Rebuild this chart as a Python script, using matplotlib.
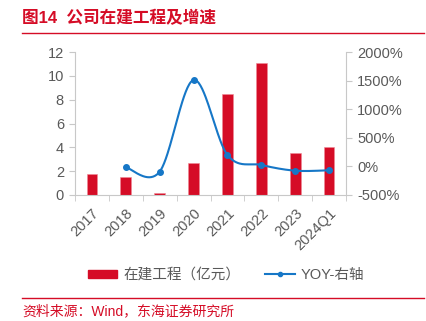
import numpy as np
import matplotlib
matplotlib.use("Agg")
import matplotlib.pyplot as plt
from matplotlib.lines import Line2D
from matplotlib.patches import Patch
from matplotlib.ticker import FuncFormatter, MultipleLocator

plt.rcParams['font.family'] = ['Liberation Sans', 'Noto Sans CJK SC', 'DejaVu Sans']

years = ['2017', '2018', '2019', '2020', '2021', '2022', '2023', '2024Q1']
cip = [1.75, 1.55, 0.15, 2.72, 8.5, 11.1, 3.52, 4.0]          # 在建工程（亿元）
yoy = [None, -15, -92, 1510, 200, 25, -75, -68]              # YOY %

RED = '#D50C26'
BLUE = '#1677C7'
GRAY = '#595959'
AXC = '#C8C8C8'


def catmull(xs, ys, n=40):
    # smooth drawing path through the points (rendering only)
    px, py = [], []
    P = list(zip(xs, ys))
    for i in range(len(P) - 1):
        p0 = P[i - 1] if i > 0 else P[i]
        p1, p2 = P[i], P[i + 1]
        p3 = P[i + 2] if i + 2 < len(P) else P[i + 1]
        t = np.linspace(0, 1, n)
        for k in range(2):
            a, b, c, d = p0[k], p1[k], p2[k], p3[k]
            v = 0.5 * ((2 * b) + (-a + c) * t + (2 * a - 5 * b + 4 * c - d) * t ** 2
                       + (-a + 3 * b - 3 * c + d) * t ** 3)
            (px if k == 0 else py).append(v)
    return np.concatenate(px), np.concatenate(py)


fig = plt.figure(figsize=(4.26, 3.21), dpi=100)
ax = fig.add_axes([75 / 426, 1 - 195 / 321, 271 / 426, 143 / 321])
ax2 = ax.twinx()

x = np.arange(len(years))
ax.bar(x, cip, width=0.32, color=RED, edgecolor='#F08A96', linewidth=0.4, zorder=2)
ax.set_ylim(0, 12)
ax.set_xlim(-0.5, len(years) - 0.5)
ax.yaxis.set_major_locator(MultipleLocator(2))
ax.set_xticks(x)
ax.set_xticklabels(years, rotation=45, ha='right', rotation_mode='anchor')
ax.set_xticks(np.arange(-0.5, len(years), 1), minor=True)
ax.tick_params(axis='x', which='major', length=0, pad=8, labelsize=10.5, labelcolor=GRAY)
ax.tick_params(axis='x', which='minor', length=4, color=AXC, direction='out')
ax.tick_params(axis='y', length=4, color=AXC, labelsize=10.5, labelcolor=GRAY, pad=4)

xl = [i for i, v in enumerate(yoy) if v is not None]
yl = [v for v in yoy if v is not None]
sx, sy = catmull(xl, yl)
ax2.plot(sx, sy, color=BLUE, lw=1.5, zorder=3)
ax2.plot(xl, yl, 'o', color=BLUE, ms=4, zorder=4)
ax2.set_ylim(-500, 2000)
ax2.yaxis.set_major_locator(MultipleLocator(500))
ax2.yaxis.set_major_formatter(FuncFormatter(lambda v, p: f'{int(v)}%'))
ax2.tick_params(axis='y', length=4, color=AXC, labelsize=10.5, labelcolor=GRAY, pad=4)

for a in (ax, ax2):
    a.spines['top'].set_visible(False)
    for s in ('left', 'right', 'bottom'):
        a.spines[s].set_color(AXC)
ax.spines['right'].set_visible(False)
ax2.spines['left'].set_visible(False)
ax2.spines['bottom'].set_visible(False)

# title and rules
fig.text(22 / 426, 1 - 18 / 321, '图14  公司在建工程及增速', color=RED, fontsize=12,
         fontweight='bold', va='center', ha='left')
fig.add_artist(Line2D([22 / 426, 424 / 426], [1 - 33 / 321] * 2, color=RED, lw=1))
fig.add_artist(Line2D([22 / 426, 424 / 426], [1 - 298 / 321] * 2, color=RED, lw=1))
fig.text(22 / 426, 1 - 311 / 321, '资料来源：Wind，东海证券研究所', color=RED, fontsize=10,
         va='center', ha='left')

handles = [Patch(color=RED),
           Line2D([0], [0], color=BLUE, lw=1.5, marker='o', ms=3)]
fig.legend(handles, ['在建工程（亿元）', 'YOY-右轴'], loc='center', ncol=2,
           bbox_to_anchor=(226 / 426, 1 - 275 / 321), frameon=False, fontsize=10.5,
           labelcolor=GRAY, handlelength=2.05, handleheight=0.5, columnspacing=1.7,
           handletextpad=0.4)

fig.savefig('out.png', dpi=100)
